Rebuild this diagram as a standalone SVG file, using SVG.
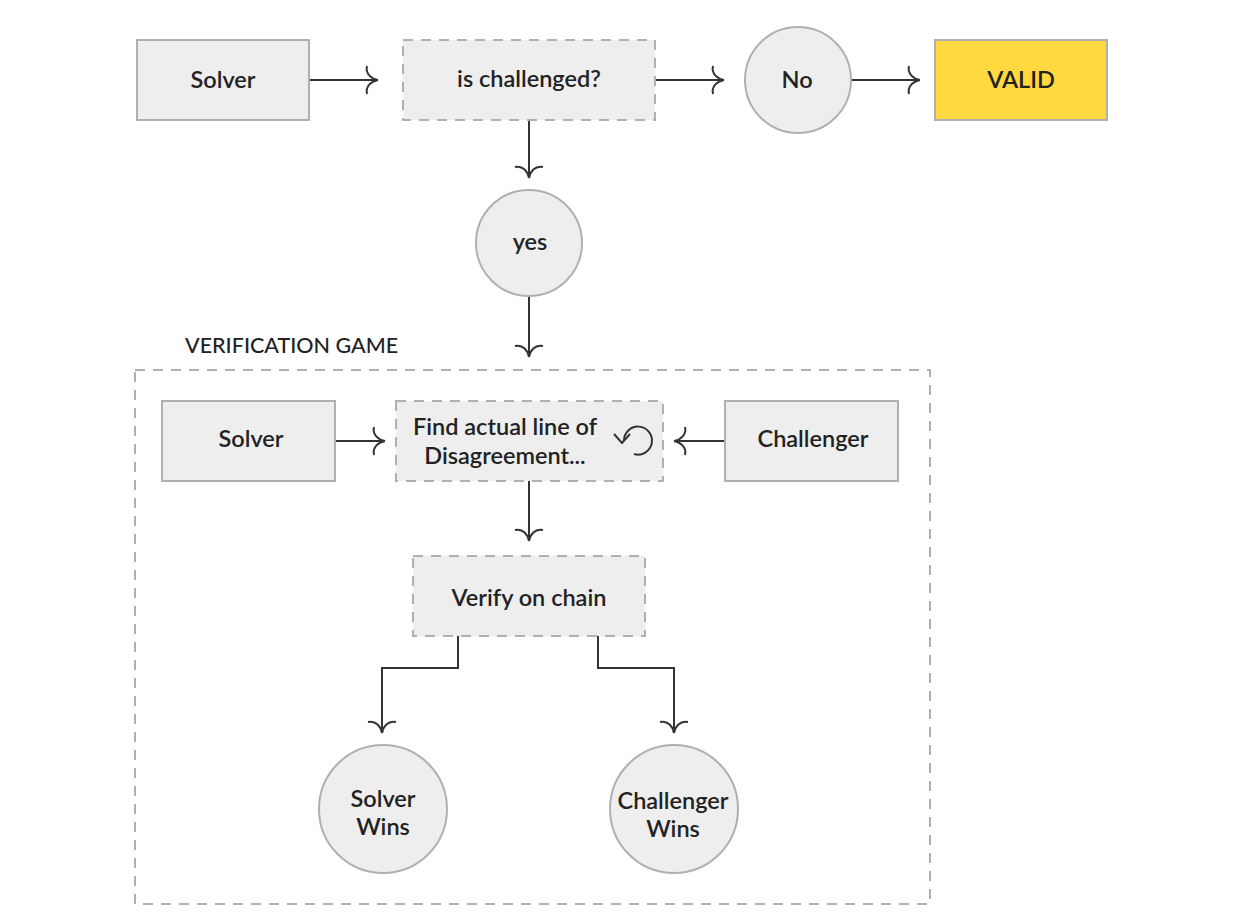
<svg xmlns="http://www.w3.org/2000/svg" width="1236" height="917" viewBox="0 0 1236 917">
<style>
.box{fill:#eeeeee;stroke:#b0b0b0;stroke-width:2}
.dash{fill:#eeeeee;stroke:#b0b0b0;stroke-width:2;stroke-dasharray:10 8}
.valid{fill:#ffd93d;stroke:#b0b0b0;stroke-width:2}
.t{font-family:Lato,"Liberation Sans",sans-serif;font-size:23.5px;font-weight:600;fill:#222;text-anchor:middle}
.lbl{font-family:Lato,"Liberation Sans",sans-serif;font-size:21.5px;font-weight:500;fill:#222}
.c{fill:none;stroke:#333;stroke-width:2}
</style>
<defs>
<marker id="ah" markerUnits="userSpaceOnUse" viewBox="-20 -20 40 40" markerWidth="40" markerHeight="40" refX="0" refY="0" orient="auto">
<path d="M -11,-14 C -13,-6 -6,-1 0,0 M -11,14 C -13,6 -6,1 0,0" fill="none" stroke="#333" stroke-width="2"/>
</marker>
</defs>
<rect x="0" y="0" width="1236" height="917" fill="#ffffff"/>
<g id="group-verification">
<rect x="135" y="370" width="795" height="534" fill="none" stroke="#b0b0b0" stroke-width="2" stroke-dasharray="10 8"/>
<text class="lbl" x="185" y="353">VERIFICATION GAME</text>
</g>
<g id="connectors">
<path class="c" d="M 310,80 L 378,80" marker-end="url(#ah)"/>
<path class="c" d="M 656,80 L 724,80" marker-end="url(#ah)"/>
<path class="c" d="M 851,80 L 920,80" marker-end="url(#ah)"/>
<path class="c" d="M 529,120 L 529,178" marker-end="url(#ah)"/>
<path class="c" d="M 529,296 L 529,357" marker-end="url(#ah)"/>
<path class="c" d="M 335,441 L 385,441" marker-end="url(#ah)"/>
<path class="c" d="M 725,441 L 674,441" marker-end="url(#ah)"/>
<path class="c" d="M 529,481 L 529,541" marker-end="url(#ah)"/>
<path class="c" d="M 458,636 L 458,668 L 382,668 L 382,733" marker-end="url(#ah)"/>
<path class="c" d="M 598,636 L 598,668 L 674,668 L 674,733" marker-end="url(#ah)"/>
</g>
<g id="solver"><rect class="box" x="137" y="40" width="172" height="80"/><text class="t" x="223" y="88">Solver</text></g>
<g id="is-challenged"><rect class="dash" x="403" y="40" width="252" height="80"/><text class="t" x="529" y="87">is challenged?</text></g>
<g id="no"><circle class="box" cx="798" cy="80" r="53"/><text class="t" x="797" y="88">No</text></g>
<g id="valid"><rect class="valid" x="935" y="40" width="172" height="80"/><text class="t" x="1021" y="88">VALID</text></g>
<g id="yes"><circle class="box" cx="529" cy="243" r="53"/><text class="t" x="530" y="250">yes</text></g>
<g id="solver-2"><rect class="box" x="162" y="401" width="173" height="80"/><text class="t" x="251" y="447">Solver</text></g>
<g id="find"><rect class="dash" x="396" y="401" width="267" height="80"/>
<text class="t" x="505" y="435">Find actual line of</text><text class="t" x="505" y="464">Disagreement...</text>
<path d="M 634,454 A 14 14 0 1 0 624,441" fill="none" stroke="#333" stroke-width="2"/>
<path d="M 614,434 L 622,443 L 630,434" fill="none" stroke="#333" stroke-width="2"/>
</g>
<g id="challenger"><rect class="box" x="725" y="401" width="173" height="80"/><text class="t" x="813" y="447">Challenger</text></g>
<g id="verify"><rect class="dash" x="413" y="556" width="232" height="80"/><text class="t" x="529" y="606">Verify on chain</text></g>
<g id="solver-wins"><circle class="box" cx="383" cy="809" r="64"/><text class="t" x="383" y="807">Solver</text><text class="t" x="383" y="835">Wins</text></g>
<g id="challenger-wins"><circle class="box" cx="674" cy="809" r="64"/><text class="t" x="673" y="809">Challenger</text><text class="t" x="673" y="837">Wins</text></g>
</svg>
